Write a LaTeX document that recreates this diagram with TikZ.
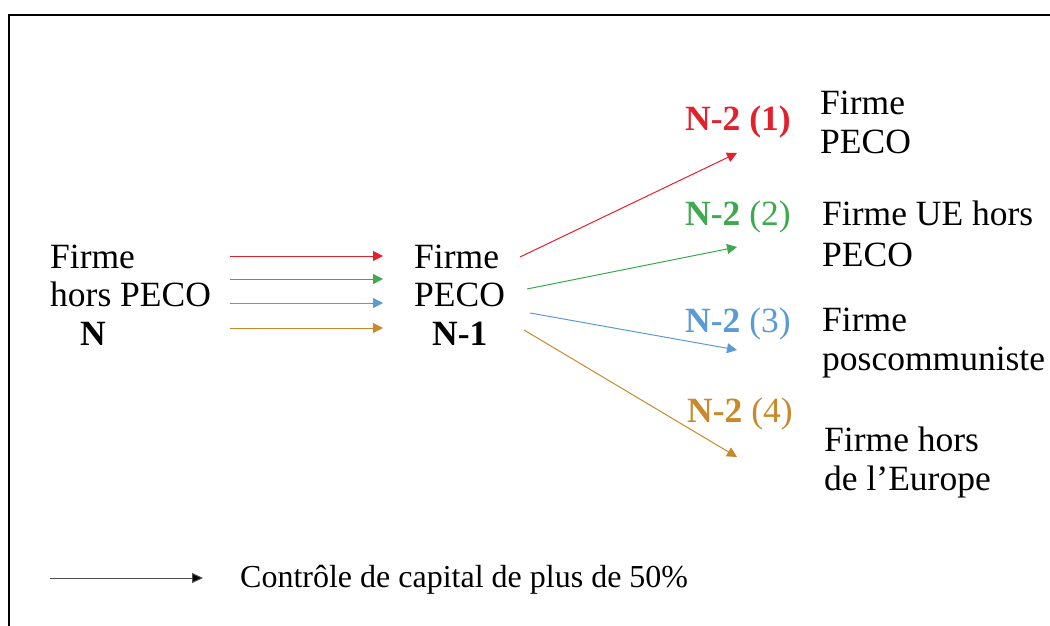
\documentclass[tikz,border=0pt]{standalone}
\usepackage{fontspec}
\setmainfont{Liberation Serif}
\usetikzlibrary{arrows.meta}
\definecolor{nred}{HTML}{E3212D}
\definecolor{ngreen}{HTML}{3FA94F}
\definecolor{nblue}{HTML}{5B9BD5}
\definecolor{norange}{HTML}{C9892A}
\begin{document}
\begin{tikzpicture}[x=1pt,y=-1pt,
  txt/.style={anchor=base west, align=left, inner sep=0pt, font=\fontsize{35.5}{38.5}\selectfont},
  ctl/.style={-{Triangle[length=10pt,width=10pt]}, line width=1pt}]
\useasboundingbox (0,0) rectangle (1050,626);
\draw[line width=2pt] (9,626) -- (9,15) -- (1050,15);
\node[txt] (n) at (50,345) {Firme\\hors PECO\\\hspace{30pt}\textbf{N}};
\node[txt] (n1) at (414,345) {Firme\\PECO\\\hspace{18pt}\textbf{N-1}};
\node[txt, text=nred] (l1) at (685,130) {\textbf{N-2 (1)}};
\node[txt, text=ngreen] (l2) at (685,225) {\textbf{N-2} (2)};
\node[txt, text=nblue] (l3) at (685,332) {\textbf{N-2} (3)};
\node[txt, text=norange] (l4) at (687,422) {\textbf{N-2} (4)};
\node[txt] (f1) at (820,153) {Firme\\PECO};
\node[txt, font=\fontsize{35.5}{41}\selectfont] (f2) at (822,266) {Firme UE hors\\PECO};
\node[txt] (f3) at (822,370) {Firme\\poscommuniste};
\node[txt] (f4) at (824,490) {Firme hors\\de l’Europe};
\node[txt, font=\fontsize{32}{36}\selectfont] (lg) at (240,587) {Contrôle de capital de plus de 50\%};
\coordinate (a1) at (230,256); \coordinate (b1) at (383,256);
\coordinate (a2) at (230,279); \coordinate (b2) at (383,279);
\coordinate (a3) at (230,303); \coordinate (b3) at (383,303);
\coordinate (a4) at (230,328); \coordinate (b4) at (383,328);
\coordinate (c1) at (520,257); \coordinate (d1) at (737,153);
\coordinate (c2) at (527,289); \coordinate (d2) at (737,247);
\coordinate (c3) at (530,313); \coordinate (d3) at (737,350);
\coordinate (c4) at (524,330); \coordinate (d4) at (737,457);
\coordinate (e0) at (50,578); \coordinate (e1) at (203,578);
\draw[ctl, nred] (a1) -- (b1);
\draw[ctl, ngreen] (a2) -- (b2);
\draw[ctl, nblue] (a3) -- (b3);
\draw[ctl, norange] (a4) -- (b4);
\draw[ctl, nred] (c1) -- (d1);
\draw[ctl, ngreen] (c2) -- (d2);
\draw[ctl, nblue] (c3) -- (d3);
\draw[ctl, norange] (c4) -- (d4);
\draw[ctl, black!70, -{Triangle[length=11pt,width=10pt,fill=black]}] (e0) -- (e1);
\end{tikzpicture}
\end{document}
